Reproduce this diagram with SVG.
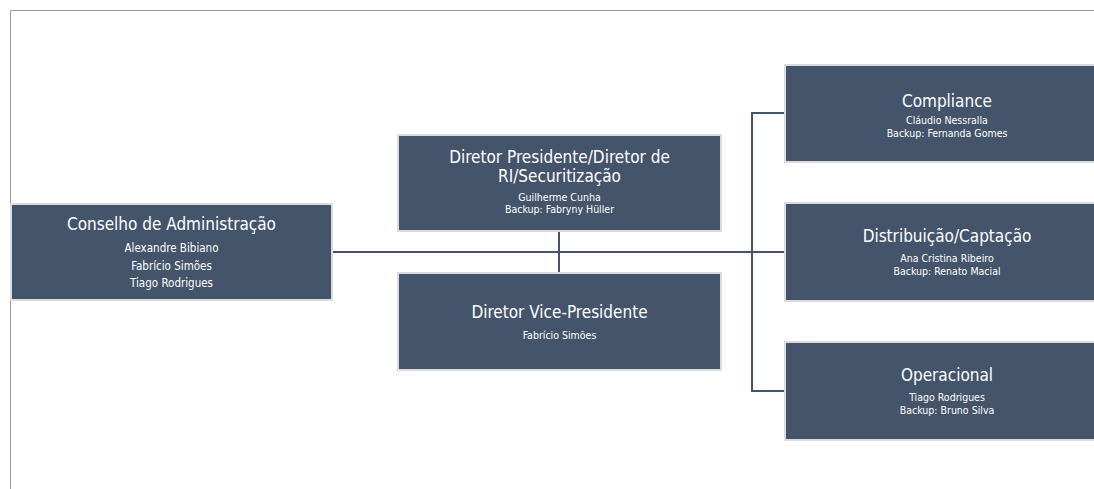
<svg xmlns="http://www.w3.org/2000/svg" width="1094" height="489" viewBox="0 0 1094 489">
<style>
.box{fill:#44546a;stroke:#dcdcdc;stroke-width:2}
.t{font-family:"DejaVu Sans Condensed","Liberation Sans",Arial,sans-serif;font-stretch:condensed;fill:#ffffff;text-anchor:middle}
.h{font-size:17px}
.s{font-size:10.5px}
.s2{font-size:11.5px}
.c{fill:none;stroke:#44546a;stroke-width:2}
</style>
<rect width="1094" height="489" fill="#ffffff"/>
<path d="M10.5,489 V10.5 H1094" fill="none" stroke="#9a9a9a" stroke-width="1"/>
<g id="connectors">
<path class="c" d="M333,252 H752"/>
<path class="c" d="M559,231 V273"/>
<path class="c" d="M785,113 H752 V391 H785"/>
<path class="c" d="M752,252 H785"/>
</g>
<g id="conselho">
<rect class="box" x="11" y="204" width="321" height="96"/>
<text class="t h" x="171.5" y="230">Conselho de Administração</text>
<text class="t s2" x="171.5" y="252">Alexandre Bibiano</text>
<text class="t s2" x="171.5" y="269.5">Fabrício Simões</text>
<text class="t s2" x="171.5" y="287">Tiago Rodrigues</text>
</g>
<g id="presidente">
<rect class="box" x="398" y="135" width="323" height="96"/>
<text class="t h" x="559.5" y="163">Diretor Presidente/Diretor de</text>
<text class="t h" x="559.5" y="182">RI/Securitização</text>
<text class="t s" x="559.5" y="201">Guilherme Cunha</text>
<text class="t s" x="559.5" y="213">Backup: Fabryny Hüller</text>
</g>
<g id="vice">
<rect class="box" x="398" y="273" width="323" height="97"/>
<text class="t h" x="559.5" y="318">Diretor Vice-Presidente</text>
<text class="t s" x="559.5" y="339">Fabrício Simões</text>
</g>
<g id="compliance">
<rect class="box" x="785" y="65" width="325" height="97"/>
<text class="t h" x="947" y="107">Compliance</text>
<text class="t s" x="947" y="124">Cláudio Nessralla</text>
<text class="t s" x="947" y="137">Backup: Fernanda Gomes</text>
</g>
<g id="distribuicao">
<rect class="box" x="785" y="203" width="325" height="98"/>
<text class="t h" x="947" y="242">Distribuição/Captação</text>
<text class="t s" x="947" y="262">Ana Cristina Ribeiro</text>
<text class="t s" x="947" y="275">Backup: Renato Macial</text>
</g>
<g id="operacional">
<rect class="box" x="785" y="342" width="325" height="98"/>
<text class="t h" x="947" y="381">Operacional</text>
<text class="t s" x="947" y="401">Tiago Rodrigues</text>
<text class="t s" x="947" y="414">Backup: Bruno Silva</text>
</g>
</svg>
